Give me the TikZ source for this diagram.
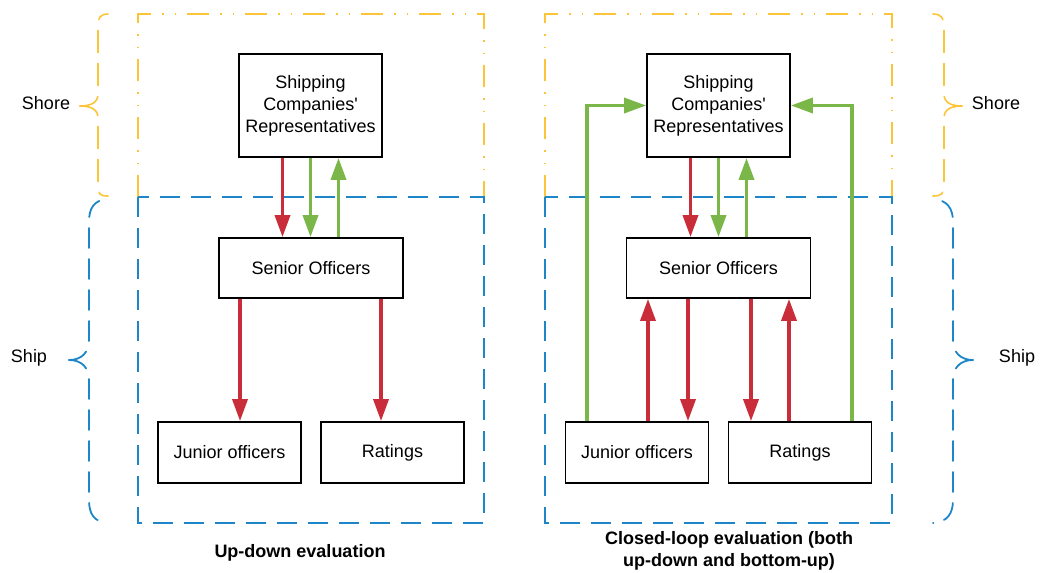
\documentclass[tikz,border=0pt]{standalone}
\usepackage{fontspec}
\setmainfont{Liberation Sans}
\newfontfamily\plainsans{Liberation Sans}
\usetikzlibrary{arrows.meta,calc}
\definecolor{cred}{HTML}{C92D39}
\definecolor{cgreen}{HTML}{7AB648}
\definecolor{cblue}{HTML}{1C86C8}
\definecolor{cyellow}{HTML}{FCC438}
\tikzset{
  box/.style={draw=black,line width=1.8pt,fill=white,align=center,inner sep=0pt,font=\fontsize{18}{22}\selectfont},
  lbl/.style={inner sep=0pt,align=center,font=\fontsize{18}{22}\selectfont},
  captxt/.style={inner sep=0pt,align=center,font=\fontsize{18}{22}\selectfont\bfseries},
  redarr/.style={draw=cred,line width=3.5pt,-{Triangle[length=22pt,width=15pt]}},
  grnarr/.style={draw=cgreen,line width=3.5pt,-{Triangle[length=22pt,width=15pt]}},
  shorebox/.style={draw=cyellow,line width=1.6pt,dash pattern=on 22pt off 11pt on 1.5pt off 11pt on 1.5pt off 11pt},
  shipbox/.style={draw=cblue,line width=1.8pt,dash pattern=on 20pt off 11pt},
  shorebrace/.style={draw=cyellow,line width=1.6pt,dash pattern=on 22pt off 11pt,line cap=round},
  shipbrace/.style={draw=cblue,line width=1.8pt,dash pattern=on 20pt off 11pt,line cap=round},
}
\newcommand{\apos}{{\plainsans '}}
\begin{document}
\begin{tikzpicture}[x=1pt,y=-1pt]
\useasboundingbox (0,0) rectangle (1042,573);
% region boxes
\draw[shorebox] (138,197) -- (138,14) -- (484,14) -- (484,197);
\draw[shipbox] (138,197) rectangle (484,523);
\draw[shorebox] (545,197) -- (545,14) -- (892,14) -- (892,197);
\draw[shipbox] (545,197) rectangle (892,523);
% braces left (each half drawn from the tip outward)
\draw[shorebrace] (80,106) .. controls (92,106) and (98,102) .. (98,94) -- (98,26) .. controls (98,18) and (100,14) .. (108,14);
\draw[shorebrace] (80,106) .. controls (92,106) and (98,110) .. (98,118) -- (98,186) .. controls (98,194) and (100,196) .. (108,196);
\draw[shipbrace] (69,360) .. controls (82,360) and (89,352) .. (89,340) -- (89,222) .. controls (89,208) and (94,200) .. (108,199);
\draw[shipbrace] (69,360) .. controls (82,360) and (89,368) .. (89,380) -- (89,500) .. controls (89,514) and (94,522) .. (108,523);
% braces right
\draw[shorebrace] (962,106) .. controls (950,106) and (944,102) .. (944,94) -- (944,26) .. controls (944,18) and (941,14) .. (933,14);
\draw[shorebrace] (962,106) .. controls (950,106) and (944,110) .. (944,118) -- (944,186) .. controls (944,194) and (941,196) .. (933,196);
\draw[shipbrace] (973,360) .. controls (960,360) and (953,352) .. (953,340) -- (953,222) .. controls (953,208) and (947,200) .. (933,199);
\draw[shipbrace] (973,360) .. controls (960,360) and (953,368) .. (953,380) -- (953,500) .. controls (953,514) and (947,522) .. (933,523);
% labels
\node[lbl] (shoreL) at (46,103) {Shore};
\node[lbl] (shipL) at (29,358) {Ship};
\node[lbl] (shoreR) at (996,103) {Shore};
\node[lbl] (shipR) at (1017,358) {Ship};
% left panel nodes
\node[box,minimum width=143pt,minimum height=103pt] (sh1) at (310.5,105.5) {Shipping\\Companies\apos\\Representatives};
\node[box,minimum width=184pt,minimum height=60pt] (se1) at (311,268) {Senior Officers};
\node[box,minimum width=143pt,minimum height=61pt] (jo1) at (229.5,452.5) {Junior officers};
\node[box,minimum width=143pt,minimum height=61pt] (ra1) at (392.5,452.5) {Ratings};
% right panel nodes
\node[box,minimum width=143pt,minimum height=103pt] (sh2) at (718.5,105.5) {Shipping\\Companies\apos\\Representatives};
\node[box,minimum width=184pt,minimum height=60pt] (se2) at (718.5,268) {Senior Officers};
\node[box,minimum width=143pt,minimum height=61pt] (jo2) at (637,452.5) {Junior officers};
\node[box,minimum width=143pt,minimum height=61pt] (ra2) at (800,452.5) {Ratings};
% left arrows
\draw[redarr] ([xshift=-28pt]sh1.south) -- ([xshift=-28pt]sh1.south |- se1.north);
\draw[grnarr] (sh1.south) -- (sh1.south |- se1.north);
\draw[grnarr] ([xshift=28pt]sh1.south |- se1.north) -- ([xshift=28pt]sh1.south);
\draw[redarr] ([xshift=10.5pt]jo1.north |- se1.south) -- ([xshift=10.5pt]jo1.north);
\draw[redarr] ([xshift=-11.5pt]ra1.north |- se1.south) -- ([xshift=-11.5pt]ra1.north);
% right arrows
\draw[redarr] ([xshift=-28pt]sh2.south) -- ([xshift=-28pt]sh2.south |- se2.north);
\draw[grnarr] (sh2.south) -- (sh2.south |- se2.north);
\draw[grnarr] ([xshift=28pt]sh2.south |- se2.north) -- ([xshift=28pt]sh2.south);
\draw[redarr] ([xshift=11pt]jo2.north) -- ([xshift=11pt]jo2.north |- se2.south);
\draw[redarr] ([xshift=51pt]jo2.north |- se2.south) -- ([xshift=51pt]jo2.north);
\draw[redarr] ([xshift=-49pt]ra2.north |- se2.south) -- ([xshift=-49pt]ra2.north);
\draw[redarr] ([xshift=-11pt]ra2.north) -- ([xshift=-11pt]ra2.north |- se2.south);
\draw[grnarr] ([xshift=-50pt]jo2.north) |- (sh2.west);
\draw[grnarr] ([xshift=52pt]ra2.north) |- (sh2.east);
% captions
\node[captxt] (cap1) at (300,553) {Up-down evaluation};
\node[captxt] (cap2) at (729,551) {Closed-loop evaluation (both\\up-down and bottom-up)};
\end{tikzpicture}
\end{document}
